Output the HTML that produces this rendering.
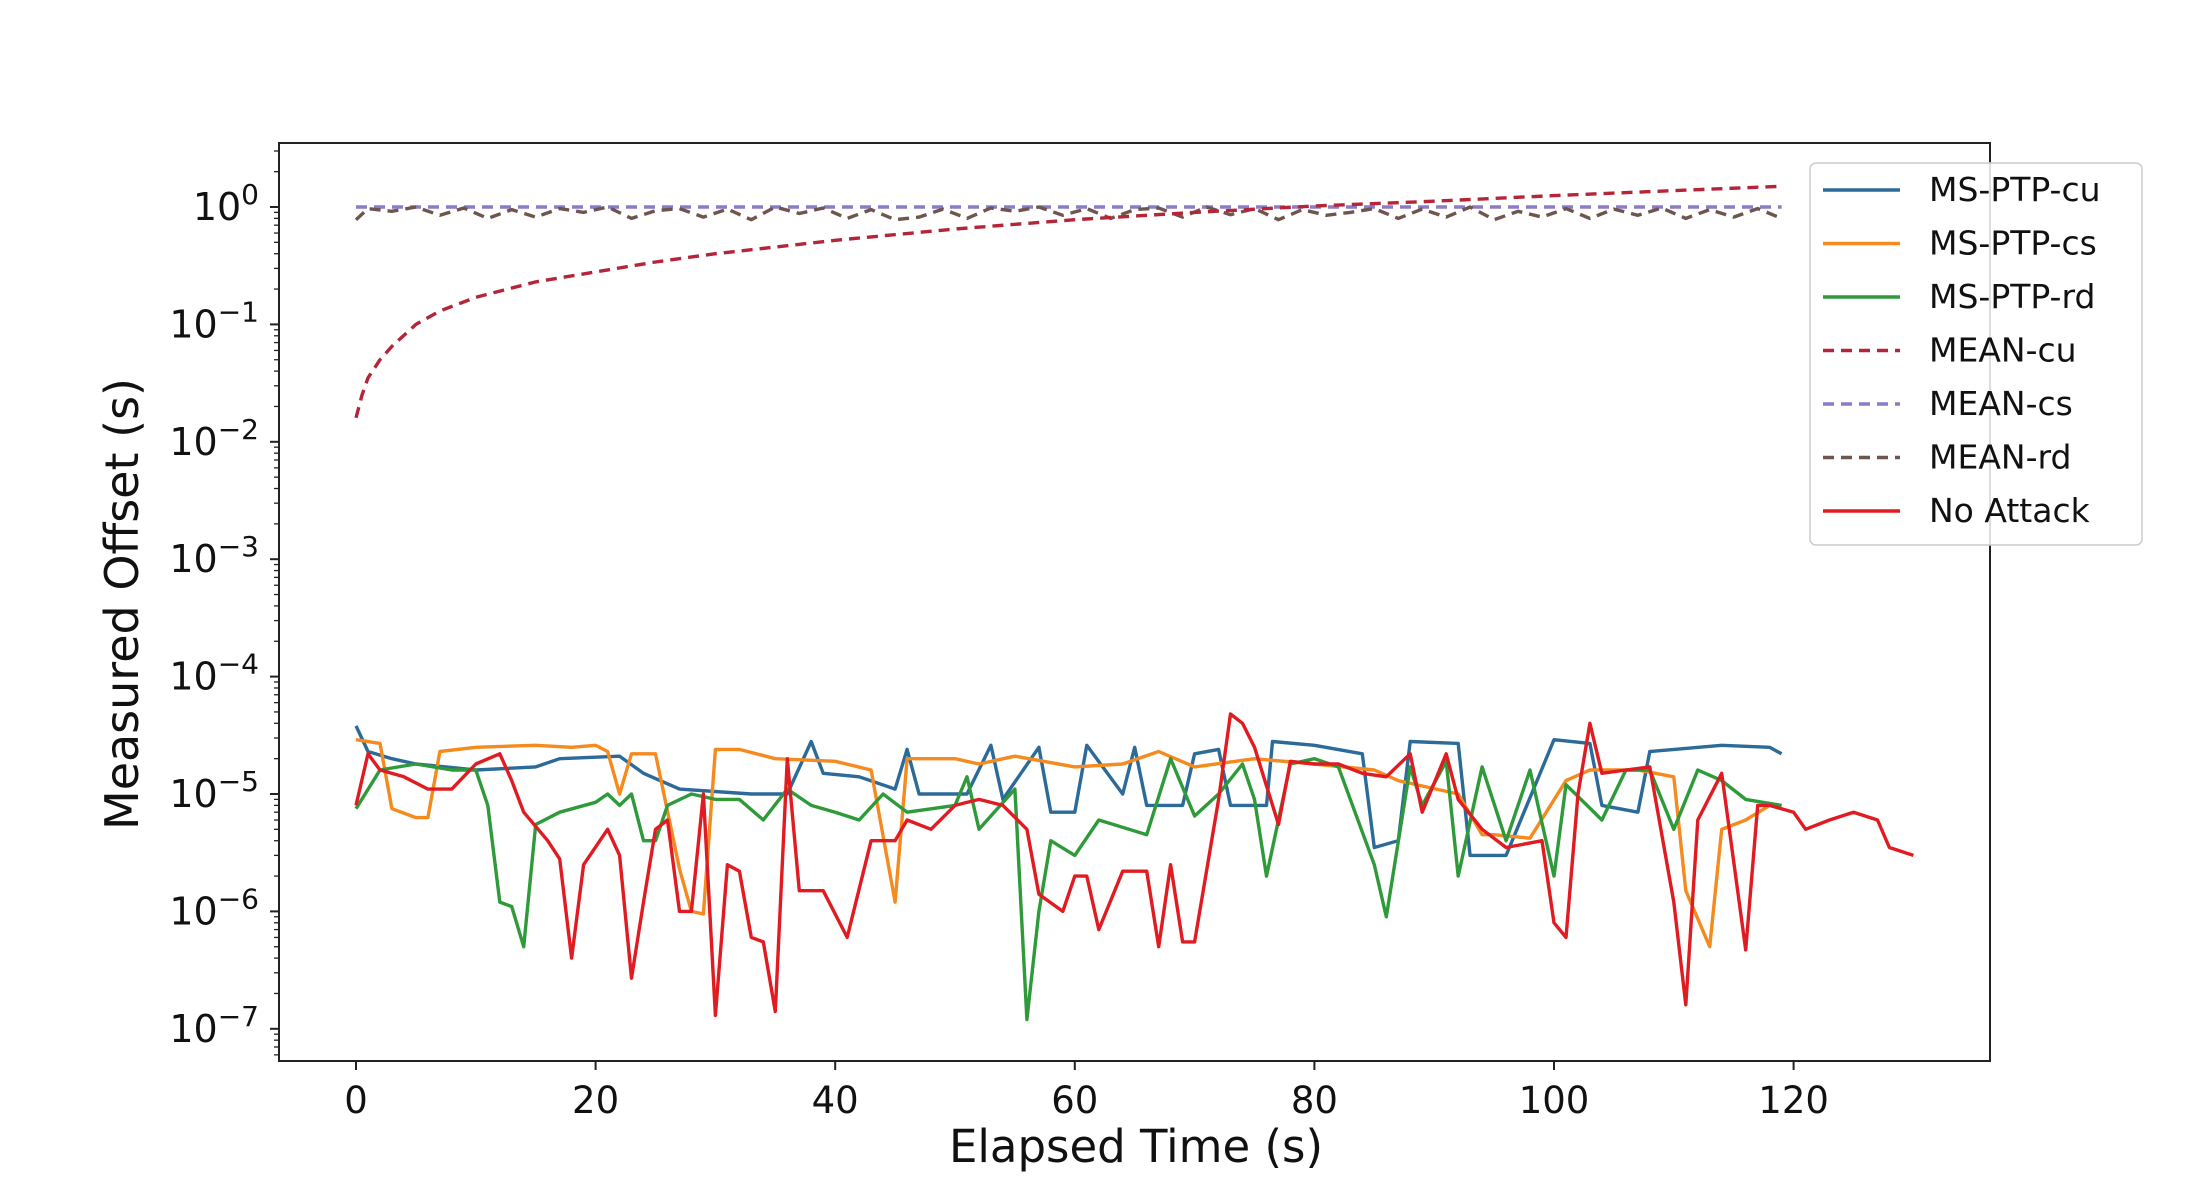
<!DOCTYPE html>
<html><head><meta charset="utf-8">
<style>
html,body{margin:0;padding:0;background:#fff;}
svg{display:block;font-family:"DejaVu Sans","Liberation Sans",sans-serif;}
</style></head>
<body>
<svg id="chart" width="2210" height="1190" viewBox="0 0 2210 1190" xmlns="http://www.w3.org/2000/svg">
<rect x="0" y="0" width="2210" height="1190" fill="#fff"/>
<g id="plot"></g>
<g id="axes"></g>
<g id="legend"></g>
</svg>
<script>
// ---- data ----
const xTicks = [0, 20, 40, 60, 80, 100, 120];
const yTickExps = [0, -1, -2, -3, -4, -5, -6, -7];
const seriesNames = ["MS-PTP-cu","MS-PTP-cs","MS-PTP-rd","MEAN-cu","MEAN-cs","MEAN-rd","No Attack"];

const cuT = [0,1,3,5,10,15,17,22,24,27,33,36,38,39,42,45,46,47,51,53,54,57,58,60,61,64,65,66,69,70,72,73,76,76.5,80,84,85,87,88,92,93,96,100,103,104,107,108,114,118,119];
const cuV = [3.8e-5,2.3e-5,2e-5,1.8e-5,1.6e-5,1.7e-5,2e-5,2.1e-5,1.5e-5,1.1e-5,1e-5,1e-5,2.8e-5,1.5e-5,1.4e-5,1.1e-5,2.4e-5,1e-5,1e-5,2.6e-5,9e-6,2.5e-5,7e-6,7e-6,2.6e-5,1e-5,2.5e-5,8e-6,8e-6,2.2e-5,2.4e-5,8e-6,8e-6,2.8e-5,2.6e-5,2.2e-5,3.5e-6,4e-6,2.8e-5,2.7e-5,3e-6,3e-6,2.9e-5,2.7e-5,8e-6,7e-6,2.3e-5,2.6e-5,2.5e-5,2.2e-5];

const csT = [0,2,3,5,6,7,10,15,18,20,21,22,23,25,27,28,29,30,32,35,40,43,45,46,50,52,55,60,64,67,70,75,80,85,87,92,94,95,98,101,103,107,110,111,113,114,116,118,119];
const csV = [2.9e-5,2.7e-5,7.5e-6,6.3e-6,6.3e-6,2.3e-5,2.5e-5,2.6e-5,2.5e-5,2.6e-5,2.3e-5,1e-5,2.2e-5,2.2e-5,2.3e-6,1e-6,9.5e-7,2.4e-5,2.4e-5,2e-5,1.9e-5,1.6e-5,1.2e-6,2e-5,2e-5,1.8e-5,2.1e-5,1.7e-5,1.8e-5,2.3e-5,1.7e-5,2e-5,1.8e-5,1.6e-5,1.3e-5,1e-5,4.5e-6,4.5e-6,4.2e-6,1.3e-5,1.6e-5,1.6e-5,1.4e-5,1.5e-6,5e-7,5e-6,6e-6,8e-6,8e-6];

const rdT = [0,2,5,8,10,11,12,13,14,15,17,20,21,22,23,24,25,26,28,30,32,34,36,38,40,42,44,46,50,51,52,55,56,57,58,60,62,66,68,70,72,74,75,76,78,80,82,85,86,88,89,91,92,94,96,98,100,101,104,106,108,110,112,114,116,119];
const rdV = [7.5e-6,1.6e-5,1.8e-5,1.6e-5,1.6e-5,8e-6,1.2e-6,1.1e-6,5e-7,5.5e-6,7e-6,8.5e-6,1e-5,8e-6,1e-5,4e-6,4e-6,8e-6,1e-5,9e-6,9e-6,6e-6,1.1e-5,8e-6,7e-6,6e-6,1e-5,7e-6,8e-6,1.4e-5,5e-6,1.1e-5,1.2e-7,1e-6,4e-6,3e-6,6e-6,4.5e-6,2e-5,6.5e-6,1e-5,1.8e-5,9e-6,2e-6,1.8e-5,2e-5,1.7e-5,2.5e-6,9e-7,1.7e-5,8e-6,1.9e-5,2e-6,1.7e-5,4e-6,1.6e-5,2e-6,1.2e-5,6e-6,1.6e-5,1.6e-5,5e-6,1.6e-5,1.3e-5,9e-6,8e-6];

const naT = [0,1,2,4,6,8,10,12,13,14,16,17,18,19,21,22,23,24,25,26,27,28,29,30,31,32,33,34,35,36,37,39,41,43,45,46,48,50,52,54,56,57,59,60,61,62,64,66,67,68,69,70,72,73,74,75,77,78,80,82,84,86,88,89,91,92,94,96,99,100,101,102,103,104,106,108,110,111,112,114,116,117,118,120,121,123,125,127,128,130];
const naV = [8e-6,2.2e-5,1.6e-5,1.4e-5,1.1e-5,1.1e-5,1.8e-5,2.2e-5,1.3e-5,7e-6,4e-6,2.8e-6,4e-7,2.5e-6,5e-6,3e-6,2.7e-7,1.2e-6,5e-6,6e-6,1e-6,1e-6,1e-5,1.3e-7,2.5e-6,2.2e-6,6e-7,5.5e-7,1.4e-7,2e-5,1.5e-6,1.5e-6,6e-7,4e-6,4e-6,6e-6,5e-6,8e-6,9e-6,8e-6,5e-6,1.4e-6,1e-6,2e-6,2e-6,7e-7,2.2e-6,2.2e-6,5e-7,2.5e-6,5.5e-7,5.5e-7,9e-6,4.8e-5,4e-5,2.5e-5,5.5e-6,1.9e-5,1.8e-5,1.8e-5,1.5e-5,1.4e-5,2.2e-5,7e-6,2.2e-5,9e-6,5e-6,3.5e-6,4e-6,8e-7,6e-7,1e-5,4e-5,1.5e-5,1.6e-5,1.7e-5,1.2e-6,1.6e-7,6e-6,1.5e-5,4.7e-7,8e-6,8e-6,7e-6,5e-6,6e-6,7e-6,6e-6,3.5e-6,3e-6];

const mcuT = [0,0.5,1,2,3,5,7,10,15,20,25,30,40,50,60,70,80,90,100,110,119];
const mcuV = [0.016,0.025,0.035,0.05,0.065,0.1,0.13,0.17,0.23,0.28,0.34,0.4,0.52,0.65,0.78,0.9,1.02,1.12,1.25,1.38,1.5];

const mcsT = [0,119];
const mcsV = [1.0,1.0];

const mrdT = [0,1,3,5,7,9,11,13,15,17,19,21,23,25,27,29,31,33,35,37,39,41,43,45,47,49,51,53,55,57,59,61,63,65,67,69,71,73,75,77,79,81,83,85,87,89,91,93,95,97,99,101,103,105,107,109,111,113,115,117,119];
const mrdV = [0.78,0.97,0.92,1.0,0.85,0.98,0.8,0.95,0.82,0.97,0.9,1.0,0.8,0.93,0.97,0.82,0.96,0.78,1.0,0.88,0.98,0.8,0.95,0.78,0.82,0.96,0.8,0.98,0.92,1.0,0.85,0.97,0.8,0.95,0.98,0.82,1.0,0.86,0.97,0.78,0.95,0.85,0.9,0.97,0.8,0.96,0.82,1.0,0.78,0.92,0.82,0.97,0.8,0.96,0.85,0.98,0.8,0.95,0.82,0.97,0.8];

// ---- layout ----
const L = 279, R = 1990, T = 143, B = 1061;
const X0 = 356, XPU = 11.98;
const Y0 = 207, DEC = 117.4;
const xs = t => X0 + t * XPU;
const ys = v => Y0 - Math.log10(v) * DEC;
const NS = "http://www.w3.org/2000/svg";
function mk(tag, attrs, parent) {
  const e = document.createElementNS(NS, tag);
  for (const k in attrs) e.setAttribute(k, attrs[k]);
  parent.appendChild(e);
  return e;
}
const plot = document.getElementById('plot');
const axes = document.getElementById('axes');
const legend = document.getElementById('legend');

const defs = mk('defs', {}, plot);
const cp = mk('clipPath', {id: 'clip'}, defs);
mk('rect', {x: L, y: T, width: R - L, height: B - T}, cp);
const pg = mk('g', {'clip-path': 'url(#clip)'}, plot);

const styles = [
  {c: '#2b6a99', d: null},
  {c: '#f58a1f', d: null},
  {c: '#2e9a3a', d: null},
  {c: '#b5253a', d: '11,7'},
  {c: '#8a7cc8', d: '11,7'},
  {c: '#6e5550', d: '11,7'},
  {c: '#e11b22', d: null}
];
const allT = [cuT, csT, rdT, mcuT, mcsT, mrdT, naT];
const allV = [cuV, csV, rdV, mcuV, mcsV, mrdV, naV];
const drawOrder = [4, 5, 3, 0, 1, 2, 6];
for (const i of drawOrder) {
  const pts = allT[i].map((t, j) => xs(t).toFixed(1) + ',' + ys(allV[i][j]).toFixed(1)).join(' ');
  const a = {points: pts, fill: 'none', stroke: styles[i].c, 'stroke-width': 3.4, 'stroke-linejoin': 'round'};
  if (styles[i].d) a['stroke-dasharray'] = styles[i].d;
  const pl = mk('polyline', a, pg);
  
  
}

// frame
const fr = mk('rect', {x: L, y: T, width: R - L, height: B - T, fill: 'none', stroke: '#222', 'stroke-width': 2}, axes);



// x ticks
for (const t of xTicks) {
  const x = xs(t);
  const tk = mk('line', {x1: x, y1: B, x2: x, y2: B + 9, stroke: '#222', 'stroke-width': 2}, axes);
  
  
  const tx = mk('text', {x: x, y: B + 52, 'font-size': 37, 'text-anchor': 'middle', fill: '#111'}, axes);
  tx.textContent = t;
  
  
}
// y ticks
for (const e of yTickExps) {
  const y = ys(Math.pow(10, e));
  const tk = mk('line', {x1: L - 9, y1: y, x2: L, y2: y, stroke: '#222', 'stroke-width': 2}, axes);
  
  
  const tx = mk('text', {x: L - 20, y: y + 13, 'font-size': 38, 'text-anchor': 'end', fill: '#111'}, axes);
  
  
  const base = mk('tspan', {}, tx); base.textContent = '10';
  const sup = mk('tspan', {dy: -16, 'font-size': 28}, tx); sup.textContent = e < 0 ? '\u2212' + (-e) : String(e);
}
// minor y ticks
for (let e = -8; e <= 0; e++) {
  for (let m = 2; m <= 9; m++) {
    const y = ys(m * Math.pow(10, e));
    if (y < T || y > B) continue;
    const tk = mk('line', {x1: L - 5, y1: y, x2: L, y2: y, stroke: '#222', 'stroke-width': 1.3}, axes);
    
    
  }
}
// axis titles
const xt = mk('text', {x: 1136, y: 1162, 'font-size': 45, 'text-anchor': 'middle', fill: '#111'}, axes);
xt.textContent = 'Elapsed Time (s)';


const yt = mk('text', {x: 0, y: 0, 'font-size': 46, 'text-anchor': 'middle', fill: '#111', transform: 'translate(138,604) rotate(-90)'}, axes);
yt.textContent = 'Measured Offset (s)';



// legend
const LX = 1810;
const lb = mk('rect', {x: LX, y: 163, width: 332, height: 382, rx: 6, fill: '#fff', 'fill-opacity': 0.85, stroke: '#ccc', 'stroke-width': 1.5}, legend);


for (let i = 0; i < seriesNames.length; i++) {
  const y = 190 + i * 53.5;
  const g = mk('g', {}, legend);
  
  
  const a = {x1: LX + 13, y1: y, x2: LX + 90, y2: y, stroke: styles[i].c, 'stroke-width': 3.4};
  if (styles[i].d) a['stroke-dasharray'] = '11,7';
  const ln = mk('line', a, g);
  
  
  const tx = mk('text', {x: LX + 119, y: y + 11, 'font-size': 33, fill: '#111'}, g);
  tx.textContent = seriesNames[i];
  
  
}
</script>
</body></html>
